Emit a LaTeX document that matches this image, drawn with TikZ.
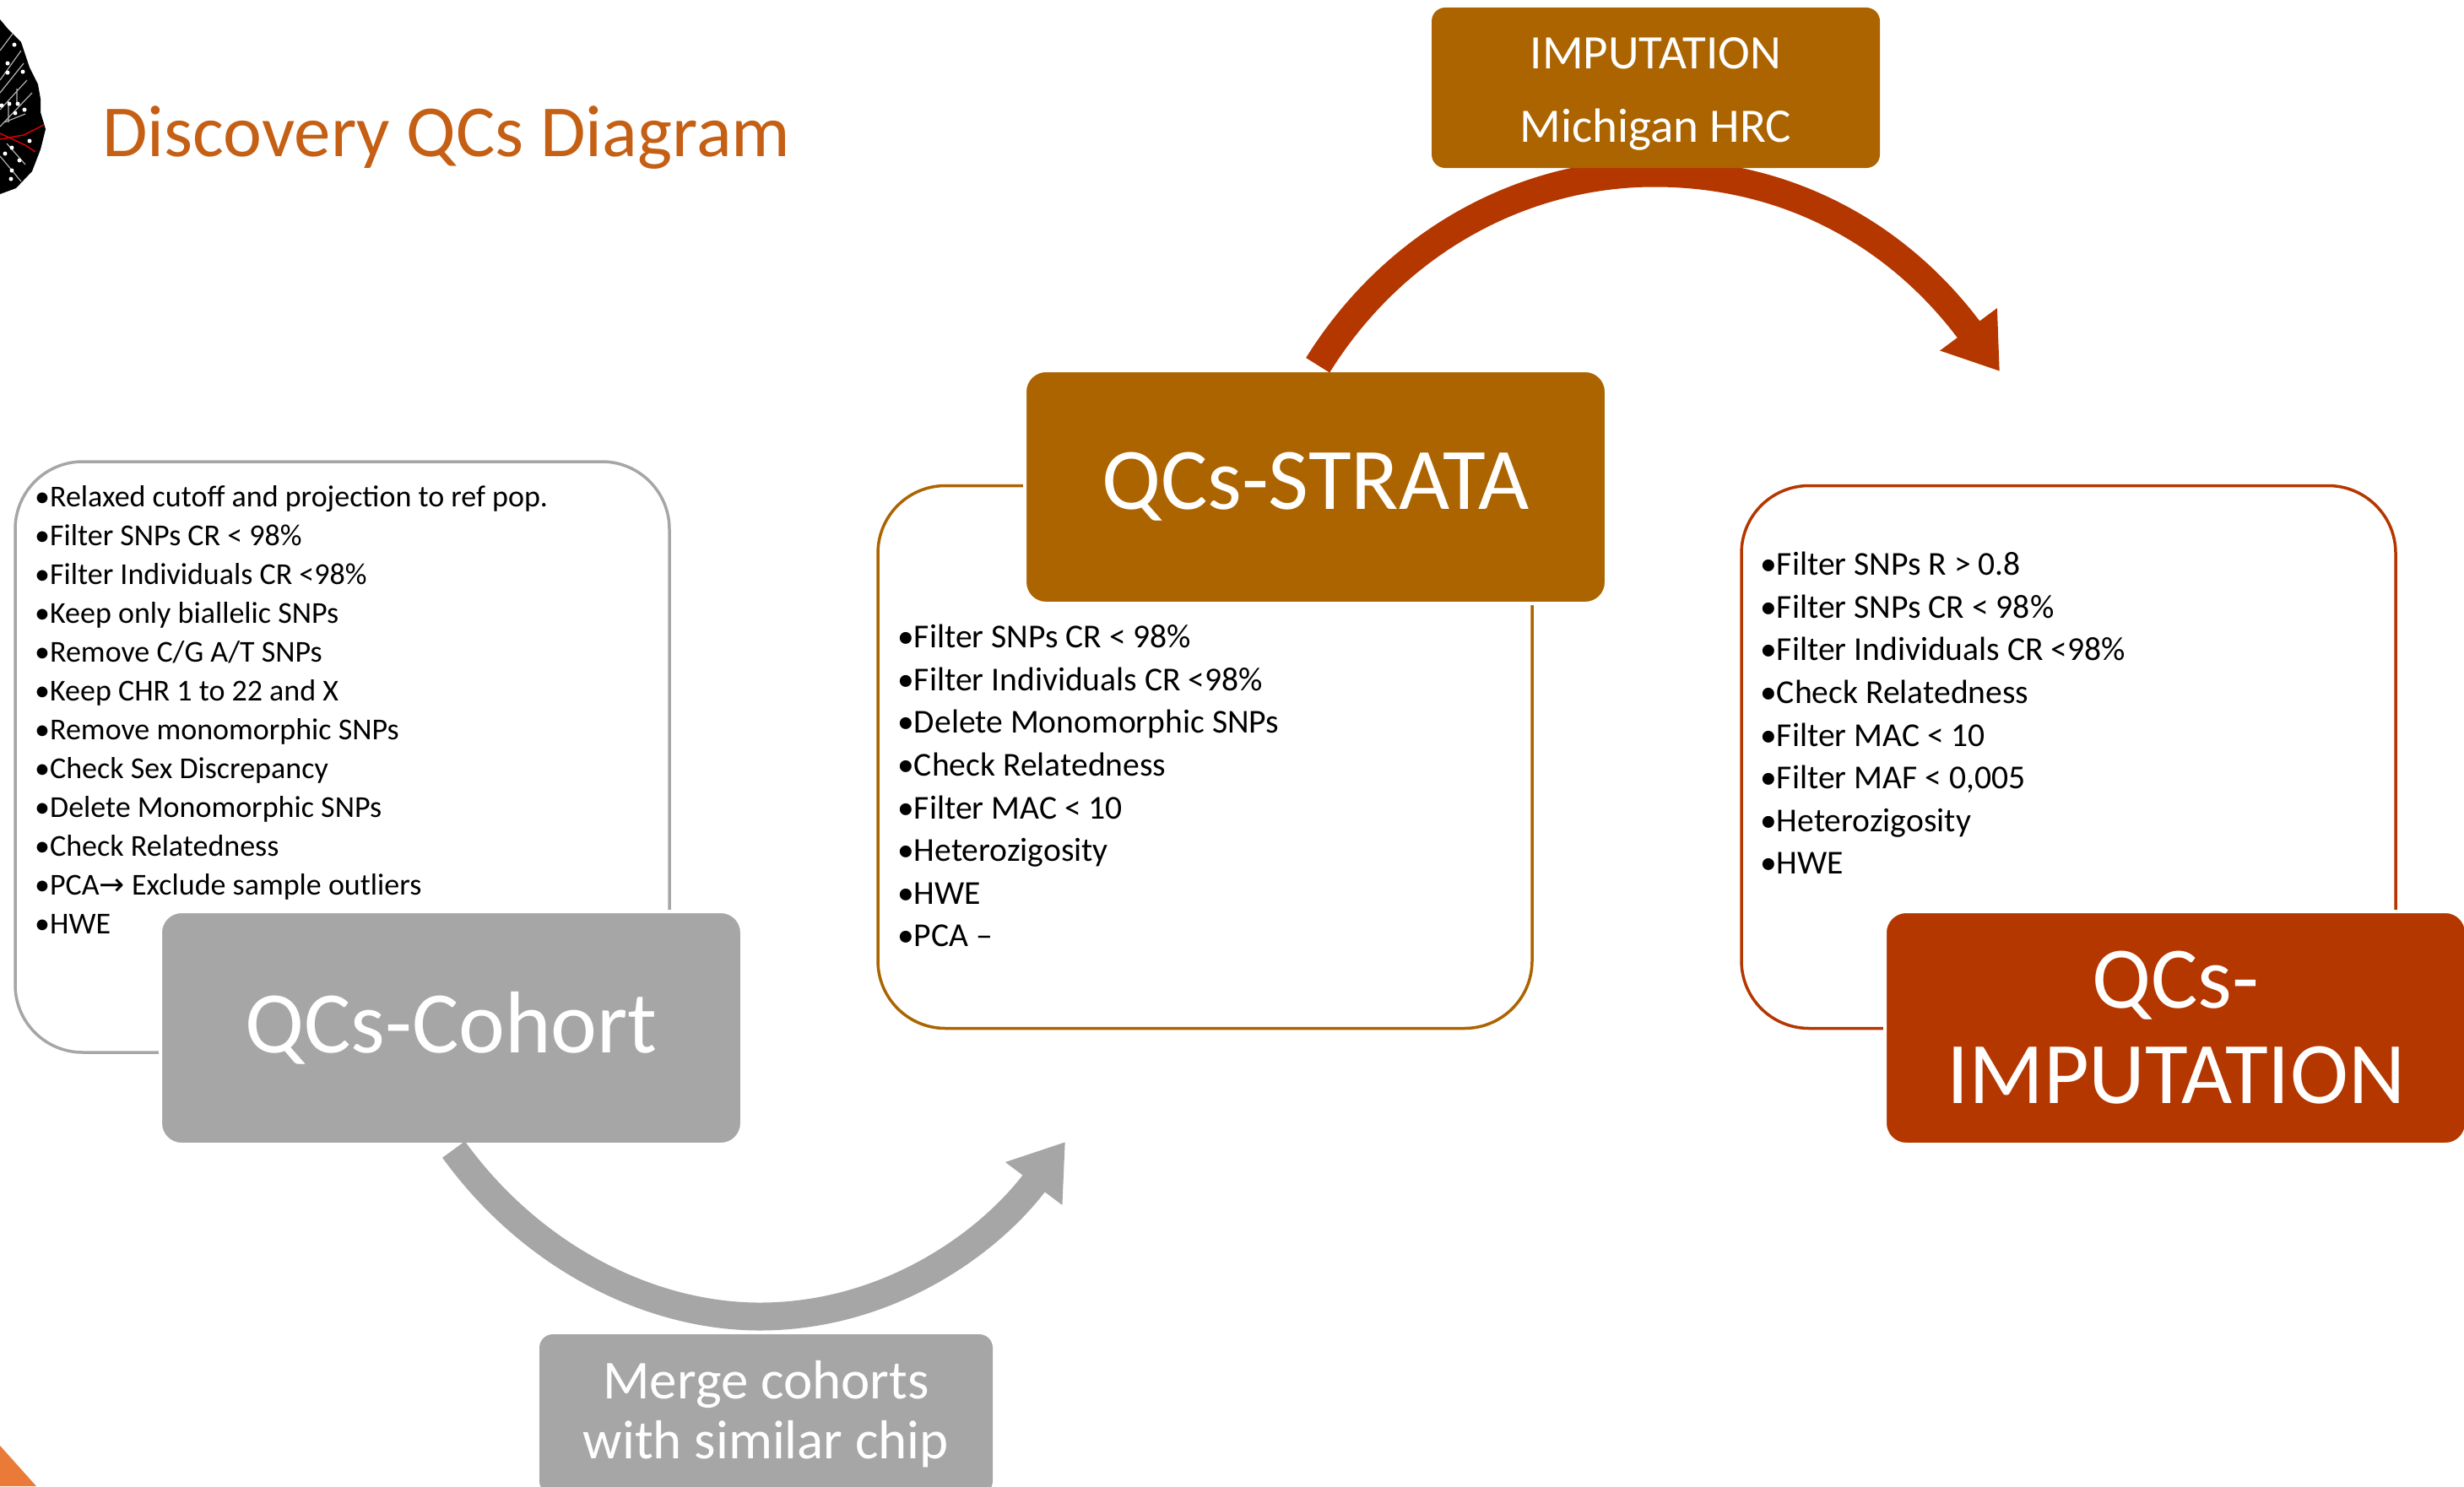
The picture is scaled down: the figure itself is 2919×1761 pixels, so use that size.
\documentclass[tikz,border=0pt]{standalone}
\usepackage{fontspec}
\setmainfont{Carlito}
\newfontfamily\symfont{DejaVu Sans}
\usetikzlibrary{arrows.meta,positioning}
\definecolor{cohortgrey}{HTML}{A6A6A6}
\definecolor{stratabrown}{HTML}{AC6400}
\definecolor{imputered}{HTML}{B43700}
\definecolor{titleorange}{HTML}{C55F14}
\definecolor{cornerorange}{HTML}{E97A38}
\tikzset{
  frame/.style={draw=#1,line width=3.5pt,rounded corners=80pt,fill=white,minimum width=775pt,minimum height=643pt},
  solidbox/.style={fill=#1,draw=white,line width=4pt,rounded corners=25pt,text=white,align=center,
    minimum width=689pt,minimum height=276pt,inner sep=0pt,font=\fontsize{104}{113}\selectfont},
  tagbox/.style={fill=#1,rounded corners=16pt,text=white,align=center,minimum width=531pt,minimum height=190pt,
    inner sep=0pt},
  listtext/.style 2 args={anchor=north west,align=left,inner sep=0pt,font=\fontsize{#1}{#2}\selectfont},
  bend/.style={line width=33pt,draw=#1,-{Triangle[length=62pt,width=80pt]},shorten <=5pt},
}
\begin{document}
\begin{tikzpicture}[x=1pt,y=-1pt,node distance=200pt,on grid]
  \clip (0,0) rectangle (2919,1761);
  \fill[white] (0,0) rectangle (2919,1761);
  % logo and corner
  \fill[black] (0,23) -- (10,35) -- (25,50) -- (35,80) -- (45,100) -- (48,117) -- (48,133) -- (54,153)
    -- (48,177) -- (38,203) -- (19,223) -- (0,230) -- cycle;
  \draw[gray!60,line width=1.2pt] (0,60) -- (15,40) (0,95) -- (25,60) (0,110) -- (28,75) (0,130) -- (32,95) (0,150) -- (38,110)
    (10,120) -- (10,145) (20,105) -- (20,122) (5,145) -- (30,135) (0,185) -- (25,215) (8,170) -- (30,195);
  \draw[red!85!black,line width=1.5pt] (0,165) -- (28,160) -- (52,148) (0,158) -- (30,172) -- (42,180);
  \foreach \dotx/\doty in {17/53,9/75,9/86,27/85,2/125,11/123,21/123,29/130,18/134,35/167,14/175,6/182,23/190,14/202,13/212}
    \fill[white] (\dotx,\doty) circle (2.5);
  \fill[cornerorange] (0,1713) -- (43,1761) -- (0,1761) -- cycle;
  \node [anchor=west,inner sep=0pt,text=titleorange,font=\fontsize{87}{90}\selectfont] (title) at (121,163) {Discovery QCs Diagram};
  % frames first, solid boxes go over them
  \node [frame=cohortgrey,minimum height=700pt] (cohortframe) at (405.5,897) {};
  \node [frame=stratabrown,right=1022pt of cohortframe] (strataframe) {};
  \node [frame=imputered,right=1023pt of strataframe] (imputeframe) {};
  \node [solidbox=cohortgrey] (cohort) at (534.5,1218) {QCs-Cohort};
  \node [solidbox=stratabrown,above right=641pt and 1024pt of cohort] (strata) {QCs-STRATA};
  \node [solidbox=imputered,right=2043pt of cohort] (impute) {QCs-\\IMPUTATION};
  % lists
  \node [listtext={36}{46}] (cohortlist) at (41,575) {•Relaxed cutoff and projection to ref pop.\\
    •Filter SNPs CR < 98\%\\•Filter Individuals CR <98\%\\•Keep only biallelic SNPs\\•Remove C/G A/T SNPs\\
    •Keep CHR 1 to 22 and X\\•Remove monomorphic SNPs\\•Check Sex Discrepancy\\•Delete Monomorphic SNPs\\
    •Check Relatedness\\•PCA{\symfont→} Exclude sample outliers\\•HWE};
  \node [listtext={39.6}{50.6}] (stratalist) at (1063,740) {•Filter SNPs CR < 98\%\\
    •Filter Individuals CR <98\%\\•Delete Monomorphic SNPs\\•Check Relatedness\\•Filter MAC < 10\\
    •Heterozigosity\\•HWE\\•PCA –};
  \node [listtext={39.6}{50.6}] (imputelist) at (2085,654) {•Filter SNPs R > 0.8\\
    •Filter SNPs CR < 98\%\\•Filter Individuals CR <98\%\\•Check Relatedness\\•Filter MAC < 10\\
    •Filter MAF < 0,005\\•Heterozigosity\\•HWE};
  % curved arrows
  \coordinate (mergetip) at (1262,1353);
  \coordinate (imputetip) at (2369,440);
  \draw [bend=cohortgrey] (cohort.south) .. controls (630,1490) and (770,1560) .. (900,1560)
    .. controls (1050,1560) and (1170,1475) .. (mergetip);
  \draw [bend=imputered] (strata.north) .. controls (1650,290) and (1800,205) .. (1960,205)
    .. controls (2120,205) and (2250,280) .. (imputetip);
  % tags sit on the bends
  \node [tagbox=stratabrown,above right=473pt and 403pt of strata,font=\fontsize{57}{87}\selectfont] (imputetag) {\rule{0pt}{52pt}IMPUTATION\\Michigan HRC};
  \node [tagbox=cohortgrey,minimum width=537pt,below right=458pt and 373pt of cohort,font=\fontsize{65}{71}\selectfont] (mergetag) {Merge cohorts\\with similar chip};
\end{tikzpicture}
\end{document}
